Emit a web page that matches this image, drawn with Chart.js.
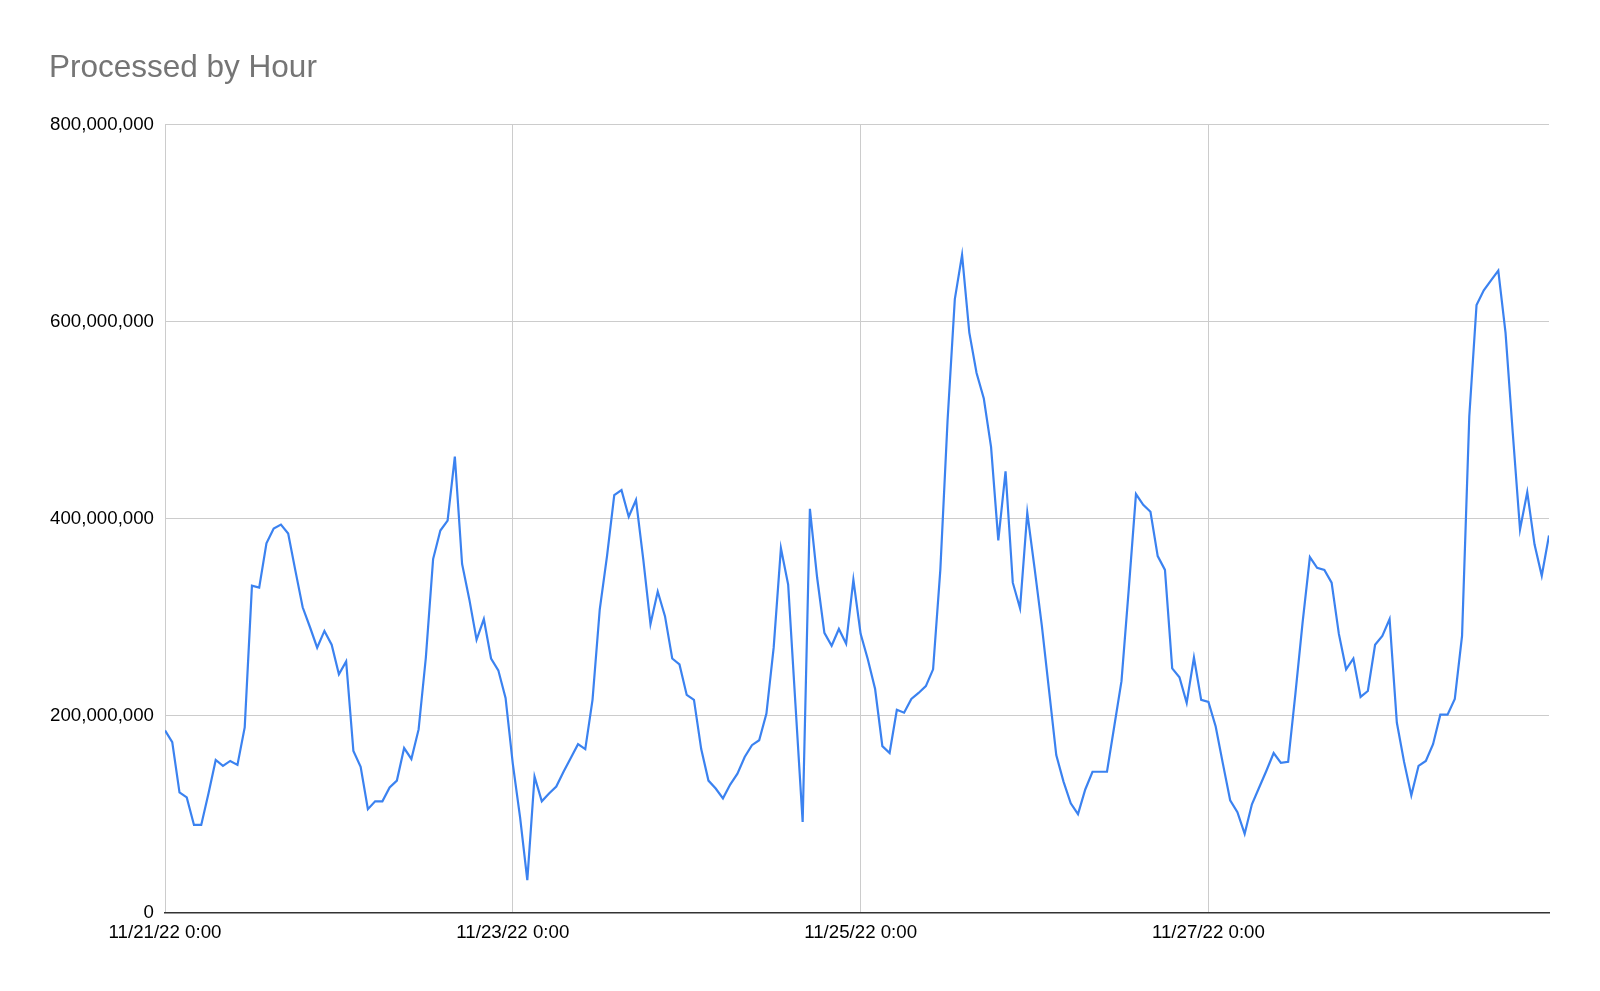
<!DOCTYPE html>
<html>
<head>
<meta charset="utf-8">
<title>Processed by Hour</title>
<script src="https://cdn.jsdelivr.net/npm/chart.js@4.4.0/dist/chart.umd.min.js"></script>
<style>
  html, body { margin: 0; padding: 0; background: #fff; }
  #wrap { width: 1600px; height: 991px; }
</style>
</head>
<body>
<div id="wrap"><canvas id="myChart"></canvas></div>
<script>
// hourly values, starting 11/21/22 0:00
var processed = [
  185000000, 173000000, 122000000, 117000000, 89000000, 89000000, 121000000, 155000000,
  149000000, 154000000, 150000000, 188000000, 332000000, 330000000, 375000000, 390000000,
  394000000, 385000000, 347000000, 310000000, 290000000, 269000000, 286000000, 272000000,
  242000000, 255000000, 164000000, 148000000, 105000000, 113000000, 113000000, 127000000,
  134000000, 167000000, 156000000, 186000000, 259000000, 359000000, 388000000, 398000000,
  463000000, 354000000, 318000000, 277000000, 298000000, 258000000, 246000000, 218000000,
  151000000, 97000000, 33000000, 138000000, 113000000, 121000000, 128000000, 143000000,
  157000000, 171000000, 166000000, 216000000, 308000000, 362000000, 424000000, 429000000,
  402000000, 419000000, 359000000, 293000000, 326000000, 301000000, 258000000, 252000000,
  221000000, 216000000, 166000000, 134000000, 126000000, 116000000, 130000000, 141000000,
  158000000, 170000000, 175000000, 202000000, 269000000, 370000000, 333000000, 212000000,
  92000000, 410000000, 340000000, 284000000, 271000000, 288000000, 273000000, 338000000,
  283000000, 257000000, 227000000, 169000000, 162000000, 206000000, 203000000, 217000000,
  223000000, 230000000, 247000000, 348000000, 500000000, 623000000, 668000000, 589000000,
  548000000, 522000000, 473000000, 378000000, 448000000, 335000000, 309000000, 406000000,
  350000000, 292000000, 226000000, 160000000, 133000000, 111000000, 100000000, 125000000,
  143000000, 143000000, 143000000, 189000000, 235000000, 328000000, 425000000, 414000000,
  407000000, 362000000, 348000000, 248000000, 239000000, 213000000, 259000000, 216000000,
  214000000, 189000000, 151000000, 114000000, 102000000, 80000000, 110000000, 127000000,
  144000000, 162000000, 152000000, 153000000, 222000000, 295000000, 361000000, 350000000,
  348000000, 335000000, 283000000, 247000000, 258000000, 219000000, 225000000, 272000000,
  281000000, 298000000, 193000000, 153000000, 119000000, 149000000, 154000000, 171000000,
  201000000, 201000000, 217000000, 281000000, 504000000, 617000000, 632000000, 642000000,
  652000000, 589000000, 487000000, 389000000, 427000000, 374000000, 342000000, 383000000
];

var tickHours = [0, 48, 96, 144];
var tickLabels = ['11/21/22 0:00', '11/23/22 0:00', '11/25/22 0:00', '11/27/22 0:00'];
var yTicks = [0, 200000000, 400000000, 600000000, 800000000];

var points = processed.map(function (v, i) { return { x: i, y: v }; });

var ctx = document.getElementById('myChart').getContext('2d');
var chart = new Chart(ctx, {
  type: 'line',
  data: {
    datasets: [{
      label: 'Processed',
      data: points,
      borderColor: '#3b82f0',
      borderWidth: 2.2,
      pointRadius: 0,
      tension: 0,
      fill: false
    }]
  },
  options: {
    responsive: true,
    maintainAspectRatio: false,
    animation: false,
    layout: { padding: { left: 49, right: 51, top: 0, bottom: 38 } },
    plugins: {
      legend: { display: false },
      tooltip: { enabled: false },
      title: {
        display: true,
        text: 'Processed by Hour',
        align: 'start',
        color: '#757575',
        font: { family: 'Arial, "Liberation Sans", sans-serif', size: 31.5, weight: 'normal' },
        padding: { top: 49, bottom: 38 }
      }
    },
    scales: {
      x: {
        type: 'linear',
        min: 0,
        max: processed.length - 1,
        afterBuildTicks: function (scale) {
          scale.ticks = tickHours.map(function (h) { return { value: h }; });
        },
        ticks: {
          color: '#000',
          font: { family: 'Arial, "Liberation Sans", sans-serif', size: 18.7 },
          padding: 9,
          maxRotation: 0,
          callback: function (value) {
            var k = tickHours.indexOf(value);
            return k >= 0 ? tickLabels[k] : '';
          }
        },
        grid: { color: '#cccccc', lineWidth: 1, drawTicks: false },
        border: { display: true, color: '#333333', width: 1.5 }
      },
      y: {
        min: 0,
        max: 800000000,
        afterBuildTicks: function (scale) {
          scale.ticks = yTicks.map(function (v) { return { value: v }; });
        },
        afterFit: function (scale) { scale.width = 116; },
        ticks: {
          color: '#000',
          font: { family: 'Arial, "Liberation Sans", sans-serif', size: 18.7 },
          padding: 11,
          callback: function (value) { return value.toLocaleString('en-US'); }
        },
        grid: {
          drawTicks: false,
          lineWidth: 1,
          color: function (c) { return c.tick && c.tick.value === 0 ? '#333333' : '#cccccc'; }
        },
        border: { display: false }
      }
    }
  }
});
</script>
</body>
</html>
